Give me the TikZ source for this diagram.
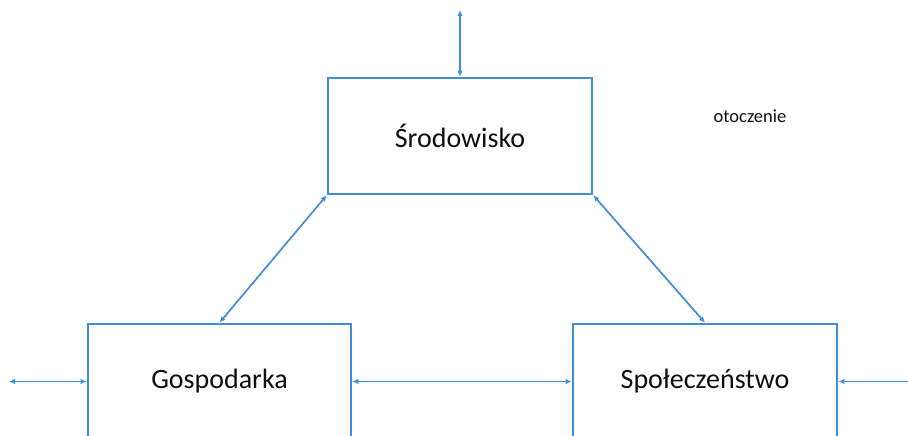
\documentclass[tikz,border=0pt]{standalone}
\usepackage{fontspec}
\setmainfont{Carlito}
\usetikzlibrary{arrows.meta}
\definecolor{boxblue}{RGB}{66,142,214}
\definecolor{txt}{RGB}{15,15,15}
\begin{document}
\begin{tikzpicture}[x=1pt,y=-1pt,
  sysbox/.style={draw=boxblue,line width=2.6pt,rectangle,inner sep=0pt,
    text=txt,font=\fontsize{28}{32}\selectfont},
  link/.style={draw=boxblue,line width=1.7pt,{Latex[length=6pt,width=5.5pt]}-{Latex[length=6pt,width=5.5pt]}},
  onelink/.style={draw=boxblue,line width=1.7pt,-{Latex[length=6pt,width=5.5pt]}}]
\useasboundingbox (0,0) rectangle (908,436);
\clip (0,0) rectangle (908,436);
\node[sysbox,minimum width=264pt,minimum height=116pt] (srod) at (460,136) {Środowisko};
\node[sysbox,minimum width=263pt,minimum height=115pt] (gosp) at (219.5,381.5) {Gospodarka};
\node[sysbox,minimum width=264pt,minimum height=115pt] (spol) at (705,381.5) {Społeczeństwo};
\node[text=txt,font=\fontsize{18.5}{22}\selectfont] (oto) at (750,116) {otoczenie};
\coordinate (topend) at (460,10);
\coordinate (leftend) at (9,381.5);
\coordinate (rightend) at (910,381.5);
\draw[link] (topend) -- (srod.north);
\draw[link] (leftend) -- (gosp.west);
\draw[onelink] (rightend) -- (spol.east);
\draw[link] (gosp.east) -- (spol.west);
\draw[link] (srod.south west) -- (gosp.north);
\draw[link] (srod.south east) -- (spol.north);
\end{tikzpicture}
\end{document}
